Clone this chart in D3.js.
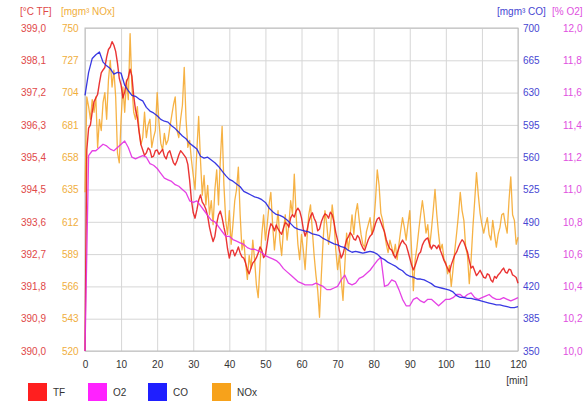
<!DOCTYPE html>
<html>
<head>
<meta charset="utf-8">
<script src="https://cdn.jsdelivr.net/npm/d3@7/dist/d3.min.js"></script>
<style>
  html, body { margin: 0; padding: 0; background: #fff; }
  svg { display: block; font-family: "Liberation Sans", Arial, sans-serif; }
</style>
</head>
<body>
<svg id="chart" width="584" height="404"></svg>
<script>
// Flue gas measurement over 120 minutes: TF (°C), O2 (%), CO and NOx (mg/m³)

const minutes = d3.range(0, 121, 1);             // one reading per minute
const halfMinutes = d3.range(0, 120.25, 0.5);    // TF and NOx sampled every half minute
const timeTicks = d3.range(0, 121, 10);

const tfValues = [
  390.0, 395.6, 396.21, 396.30, 396.66, 396.95, 397.05, 397.15, 397.47, 397.75, 397.83, 397.90, 398.19, 398.40, 398.47, 398.62, 398.52, 398.35, 398.02, 397.60,
  397.41, 397.05, 397.22, 397.50, 397.63, 397.85, 397.66, 397.10, 396.72, 396.50, 396.10, 395.75, 395.60, 395.45, 395.52, 395.66, 395.60, 395.40, 395.43, 395.58,
  395.60, 395.48, 395.55, 395.62, 395.43, 395.35, 395.52, 395.58, 395.41, 395.25, 395.18, 395.30, 395.46, 395.58, 395.52, 395.45, 395.38, 395.20, 394.76, 394.20,
  393.85, 393.70, 393.93, 394.20, 394.35, 394.15, 394.07, 393.95, 393.76, 393.45, 393.23, 393.05, 393.20, 393.55, 393.79, 393.90, 393.71, 393.45, 393.23, 392.85,
  392.59, 392.80, 392.81, 392.65, 392.76, 392.90, 392.73, 392.62, 392.59, 392.45, 392.26, 392.15, 392.31, 392.45, 392.51, 392.60, 392.73, 392.90, 392.81, 392.60,
  392.67, 393.00, 393.34, 393.55, 393.48, 393.35, 393.51, 393.40, 393.32, 393.25, 393.43, 393.58, 393.54, 393.45, 393.71, 393.80, 393.73, 393.90, 393.98, 393.90,
  393.71, 393.40, 393.20, 393.35, 393.59, 393.75, 393.85, 393.70, 393.59, 393.35, 393.40, 393.60, 393.73, 393.82, 393.79, 393.70, 393.87, 393.80, 393.59, 393.30,
  393.09, 392.80, 392.59, 392.70, 392.90, 393.10, 393.18, 393.30, 393.23, 393.12, 393.09, 393.22, 393.15, 392.98, 392.87, 392.80, 392.95, 393.10, 393.20, 393.25,
  393.37, 393.55, 393.68, 393.72, 393.59, 393.45, 393.32, 393.10, 392.95, 392.85, 392.81, 392.70, 392.59, 392.72, 392.87, 393.00, 393.09, 393.00, 392.95, 392.78,
  392.59, 392.40, 392.26, 392.38, 392.54, 392.70, 392.76, 392.95, 393.06, 393.12, 393.15, 392.98, 392.84, 392.95, 392.93, 392.85, 392.95, 392.80, 392.67, 392.52,
  392.42, 392.30, 392.20, 392.40, 392.54, 392.68, 392.76, 392.90, 393.01, 393.10, 393.04, 392.90, 392.76, 392.52, 392.31, 392.36, 392.23, 392.10, 392.17, 392.25,
  392.15, 392.05, 392.03, 392.15, 392.12, 391.98, 391.92, 392.08, 392.03, 392.12, 392.17, 392.25, 392.31, 392.20, 392.17, 392.28, 392.26, 392.12, 392.09, 392.05,
  391.89
];

const o2Values = [
  10.00, 11.21, 11.24, 11.24, 11.26, 11.28, 11.27, 11.25, 11.24, 11.26,
  11.28, 11.30, 11.26, 11.20, 11.19, 11.20, 11.21, 11.20, 11.16, 11.15,
  11.13, 11.10, 11.07, 11.06, 11.05, 11.03, 11.02, 11.00, 10.98, 10.93,
  10.92, 10.93, 10.90, 10.87, 10.84, 10.81, 10.80, 10.77, 10.74, 10.71,
  10.71, 10.69, 10.68, 10.67, 10.66, 10.64, 10.63, 10.63, 10.62, 10.61,
  10.59, 10.58, 10.57, 10.56, 10.54, 10.51, 10.49, 10.47, 10.45, 10.43,
  10.42, 10.41, 10.41, 10.41, 10.42, 10.41, 10.40, 10.38, 10.38, 10.39,
  10.40, 10.44, 10.47, 10.42, 10.41, 10.42, 10.45, 10.46, 10.48, 10.50,
  10.53, 10.56, 10.58, 10.40, 10.41, 10.44, 10.43, 10.38, 10.32, 10.28,
  10.28, 10.32, 10.33, 10.31, 10.30, 10.32, 10.32, 10.30, 10.28, 10.30,
  10.32, 10.32, 10.33, 10.35, 10.35, 10.33, 10.35, 10.36, 10.33, 10.32,
  10.33, 10.34, 10.35, 10.33, 10.32, 10.32, 10.33, 10.32, 10.31, 10.32,
  10.33
];

const coValues = [
  627, 652, 667, 671, 674, 663, 659, 656, 650, 652,
  651, 638, 632, 627, 626, 623, 621, 614, 610, 608,
  605, 601, 599, 598, 594, 591, 587, 583, 580, 575,
  572, 569, 561, 559, 560, 557, 554, 550, 545, 540,
  536, 534, 531, 528, 523, 521, 519, 517, 516, 514,
  511, 505, 501, 498, 497, 495, 492, 488, 484, 482,
  481, 480, 479, 477, 476, 475, 472, 470, 468, 466,
  465, 463, 462, 459, 457, 458, 457, 456, 457, 458,
  457, 455, 451, 449, 446, 444, 442, 439, 437, 433,
  431, 430, 428, 428, 427, 425, 423, 420, 419, 418,
  417, 416, 414, 410, 408, 408, 407, 407, 406, 405,
  404, 403, 402, 401, 400, 400, 399, 398, 397, 397,
  398
];

const noxValues = [
  633, 701, 694, 685, 699, 690, 701, 665, 685, 677, 697, 704, 685, 713, 727, 708, 720, 701, 661, 654,
  685, 708, 690, 713, 699, 746, 708, 690, 685, 694, 677, 667, 672, 690, 672, 681, 685, 665, 672, 677,
  704, 683, 668, 663, 675, 667, 670, 679, 687, 695, 701, 677, 672, 685, 695, 722, 685, 665, 670, 656,
  645, 635, 663, 687, 656, 631, 645, 624, 638, 617, 627, 610, 635, 649, 624, 656, 680, 638, 613, 603,
  620, 596, 610, 627, 635, 651, 617, 592, 599, 583, 571, 588, 579, 599, 585, 567, 558, 581, 603, 617,
  599, 610, 624, 633, 610, 592, 606, 620, 599, 588, 606, 617, 599, 610, 627, 617, 646, 617, 596, 585,
  603, 592, 578, 599, 617, 624, 606, 588, 574, 563, 544, 574, 599, 620, 610, 596, 606, 624, 613, 592,
  578, 588, 571, 556, 581, 604, 592, 603, 617, 603, 618, 625, 613, 603, 596, 594, 605, 610, 615, 603,
  610, 627, 649, 638, 618, 613, 604, 596, 590, 599, 594, 588, 596, 585, 596, 606, 615, 608, 599, 610,
  620, 592, 563, 585, 594, 606, 617, 627, 617, 604, 610, 594, 606, 620, 635, 617, 603, 592, 596, 585,
  583, 575, 581, 566, 578, 592, 604, 617, 633, 620, 613, 594, 588, 568, 585, 608, 627, 647, 631, 618,
  610, 604, 610, 615, 603, 599, 613, 603, 594, 603, 608, 617, 618, 610, 604, 627, 644, 617, 613, 596,
  601
];

const tfTicks  = d3.range(11).map(i => 390 + i * 0.9);
const noxTicks = d3.range(11).map(i => 520 + i * 23);
const coTicks  = d3.range(11).map(i => 350 + i * 35);
const o2Ticks  = d3.range(11).map(i => 10 + i * 0.2);

const legendItems = ["TF", "O2", "CO", "NOx"];

// ---- layout ----
const plot = { left: 85, right: 518, top: 28, bottom: 351 };
const colors = { TF: "#e81e1e", O2: "#e22ee2", CO: "#2424e0", NOx: "#f5a524" };
const swatch = { TF: "#ff1f1f", O2: "#ff22ff", CO: "#1f1fff", NOx: "#f7a21b" };
const labelColors = { TF: "#e04848", O2: "#e050e0", CO: "#4646d2", NOx: "#f0ae3c" };

const svg = d3.select("#chart");

const x = d3.scaleLinear().domain([0, 120]).range([plot.left, plot.right]);
const yTF = d3.scaleLinear().domain([390, 399]).range([plot.bottom, plot.top]);
const yNOx = d3.scaleLinear().domain([520, 750]).range([plot.bottom, plot.top]);
const yCO = d3.scaleLinear().domain([350, 700]).range([plot.bottom, plot.top]);
const yO2 = d3.scaleLinear().domain([10, 12]).range([plot.bottom, plot.top]);

const comma = d3.formatLocale({ decimal: ",", thousands: ".", grouping: [3], currency: ["", ""] });
const f1 = comma.format(".1f");

// grid
const grid = svg.append("g");
grid.append("g")
  .attr("transform", `translate(0,${plot.bottom})`)
  .call(d3.axisBottom(x).tickValues(timeTicks).tickSize(-(plot.bottom - plot.top)).tickFormat(""))
  .call(g => g.select(".domain").remove())
  .call(g => g.selectAll("line").attr("stroke", "#d6d6d6"));
grid.append("g")
  .attr("transform", `translate(${plot.left},0)`)
  .call(d3.axisLeft(yTF).tickValues(tfTicks).tickSize(-(plot.right - plot.left)).tickFormat(""))
  .call(g => g.select(".domain").remove())
  .call(g => g.selectAll("line").attr("stroke", "#d6d6d6"));

svg.append("rect")
  .attr("x", plot.left).attr("y", plot.top)
  .attr("width", plot.right - plot.left).attr("height", plot.bottom - plot.top)
  .attr("fill", "none").attr("stroke", "#bdbdbd");

// axis labels
function styleAxis(g, color) {
  g.select(".domain").remove();
  g.selectAll("line").remove();
  g.selectAll("text").attr("fill", color).attr("font-size", 10)
    .attr("font-family", "\"Liberation Sans\", Arial, sans-serif");
}

svg.append("g").attr("transform", "translate(46,0)")
  .call(d3.axisLeft(yTF).tickValues(tfTicks).tickSize(0).tickPadding(0).tickFormat(f1))
  .call(g => styleAxis(g, labelColors.TF));
svg.append("g").attr("transform", "translate(62,0)")
  .call(d3.axisRight(yNOx).tickValues(noxTicks).tickSize(0).tickPadding(0).tickFormat(d3.format("d")))
  .call(g => styleAxis(g, labelColors.NOx));
svg.append("g").attr("transform", "translate(523,0)")
  .call(d3.axisRight(yCO).tickValues(coTicks).tickSize(0).tickPadding(0).tickFormat(d3.format("d")))
  .call(g => styleAxis(g, labelColors.CO));
svg.append("g").attr("transform", "translate(563,0)")
  .call(d3.axisRight(yO2).tickValues(o2Ticks).tickSize(0).tickPadding(0).tickFormat(f1))
  .call(g => styleAxis(g, labelColors.O2));
svg.append("g").attr("transform", `translate(0,${plot.bottom})`)
  .call(d3.axisBottom(x).tickValues(timeTicks).tickSize(0).tickPadding(10).tickFormat(d3.format("d")))
  .call(g => styleAxis(g, "#333"));

// unit headers
const headers = [
  { t: "[°C TF]", x: 20, c: labelColors.TF },
  { t: "[mgm³ NOx]", x: 61, c: labelColors.NOx },
  { t: "[mgm³ CO]", x: 497, c: labelColors.CO },
  { t: "[% O2]", x: 552, c: labelColors.O2 }
];
svg.append("g").selectAll("text").data(headers).join("text")
  .attr("x", d => d.x).attr("y", 15)
  .attr("font-size", 10).attr("fill", d => d.c)
  .text(d => d.t);

svg.append("text").attr("x", 517).attr("y", 384)
  .attr("text-anchor", "middle").attr("font-size", 10).attr("fill", "#333")
  .text("[min]");

// series lines
const plotArea = svg.append("g");
function drawLine(xs, values, yScale, color, width, opacity) {
  const data = values.map((v, i) => [xs[i], v]);
  plotArea.append("path")
    .datum(data)
    .attr("fill", "none")
    .attr("stroke", color)
    .attr("stroke-width", width)
    .attr("stroke-opacity", opacity)
    .attr("stroke-linejoin", "round")
    .attr("d", d3.line().x(d => x(d[0])).y(d => yScale(d[1])));
}
drawLine(halfMinutes, noxValues, yNOx, colors.NOx, 1.3, 0.85);
drawLine(halfMinutes, tfValues, yTF, colors.TF, 1.4, 0.9);
drawLine(minutes, o2Values, yO2, colors.O2, 1.3, 0.9);
drawLine(minutes, coValues, yCO, colors.CO, 1.3, 0.9);

// legend
const legendX = [28, 88, 148, 212];
const legend = svg.append("g").selectAll("g").data(legendItems).join("g")
  .attr("transform", (d, i) => `translate(${legendX[i]},383)`);
legend.append("rect").attr("width", 19).attr("height", 18).attr("fill", d => swatch[d]);
legend.append("text").attr("x", 25).attr("y", 13)
  .attr("font-size", 10).attr("fill", "#333").text(d => d);
</script>
</body>
</html>
